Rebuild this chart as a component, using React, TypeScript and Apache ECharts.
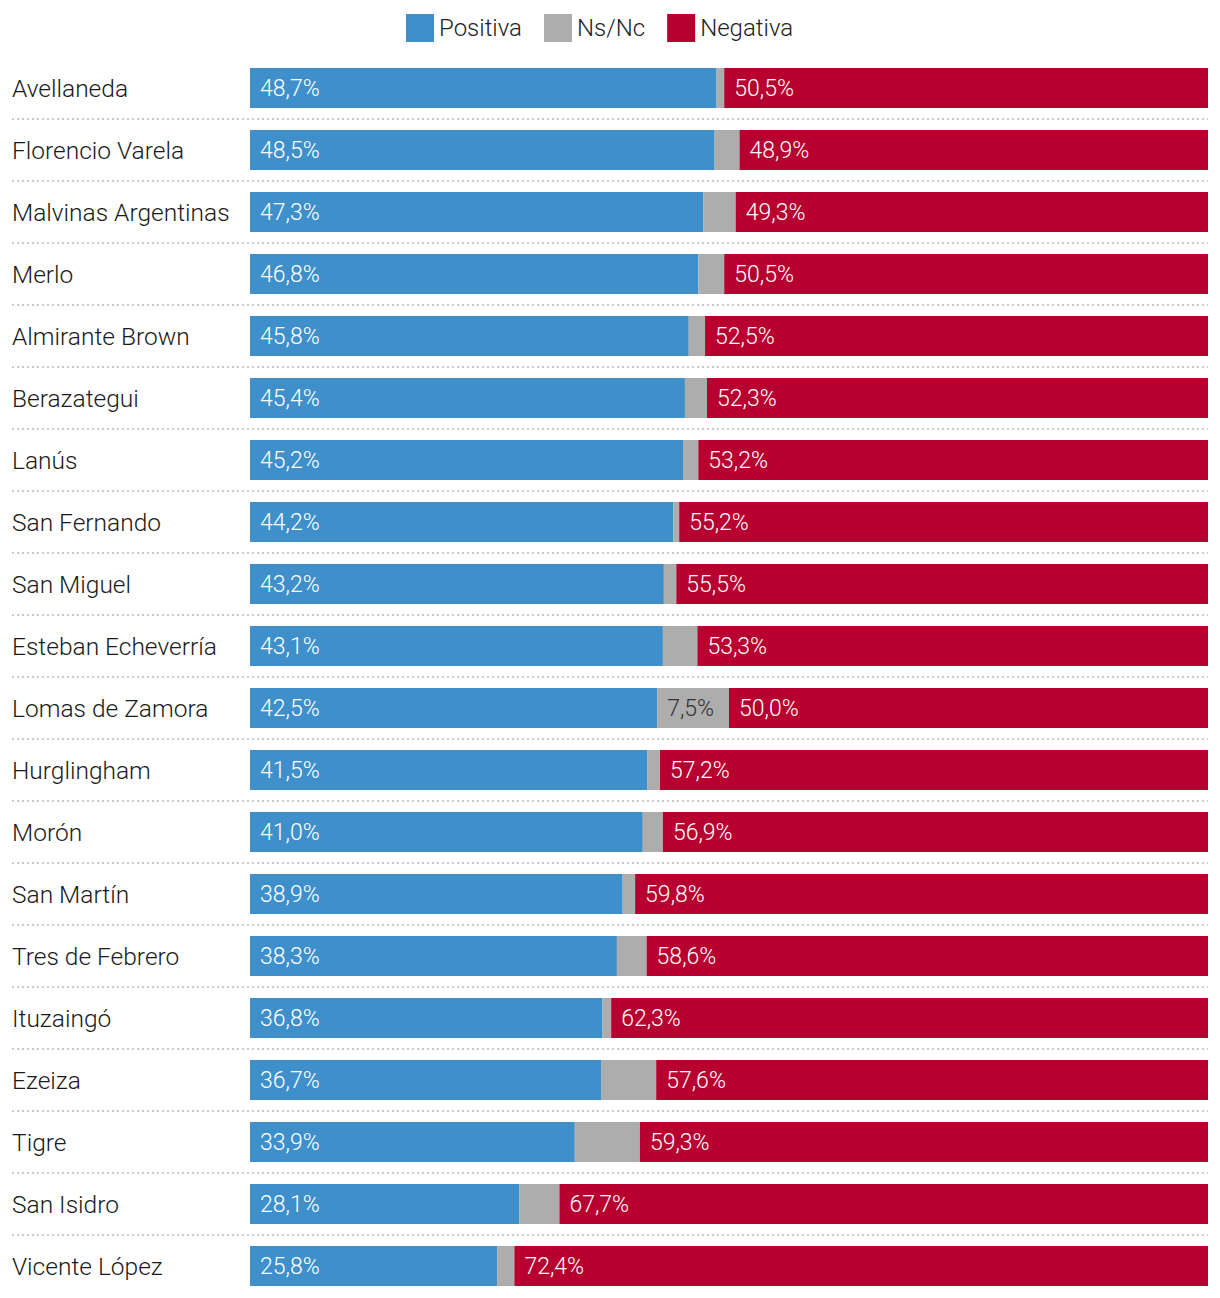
import React, { useEffect, useRef } from "react";
import * as echarts from "echarts";

const categories = [
  "Avellaneda", "Florencio Varela", "Malvinas Argentinas", "Merlo", "Almirante Brown",
  "Berazategui", "Lanús", "San Fernando", "San Miguel", "Esteban Echeverría",
  "Lomas de Zamora", "Hurglingham", "Morón", "San Martín", "Tres de Febrero",
  "Ituzaingó", "Ezeiza", "Tigre", "San Isidro", "Vicente López",
];
const positiva = [48.7, 48.5, 47.3, 46.8, 45.8, 45.4, 45.2, 44.2, 43.2, 43.1, 42.5, 41.5, 41.0, 38.9, 38.3, 36.8, 36.7, 33.9, 28.1, 25.8];
const nsnc = [0.8, 2.6, 3.4, 2.7, 1.7, 2.3, 1.6, 0.6, 1.3, 3.6, 7.5, 1.3, 2.1, 1.3, 3.1, 0.9, 5.7, 6.8, 4.2, 1.8];
const negativa = [50.5, 48.9, 49.3, 50.5, 52.5, 52.3, 53.2, 55.2, 55.5, 53.3, 50.0, 57.2, 56.9, 59.8, 58.6, 62.3, 57.6, 59.3, 67.7, 72.4];

const FONT = "Roboto";
const fmt = (v: number) => v.toFixed(1).replace(".", ",") + "%";

export default function App() {
  const ref = useRef<HTMLDivElement>(null);
  useEffect(() => {
    const chart = echarts.init(ref.current!, null, { renderer: "svg" });
    const n = categories.length;
    const valueLabel = {
      show: true,
      position: "insideLeft",
      distance: 10,
      color: "#fff",
      fontSize: 23,
      fontFamily: FONT,
      fontWeight: 300,
    };
    chart.setOption({
      animation: false,
      textStyle: { fontFamily: FONT },
      legend: {
        top: 9,
        left: 401,
        itemWidth: 28,
        itemHeight: 28,
        itemGap: 22,
        icon: "rect",
        textStyle: { fontSize: 24, color: "#222", fontFamily: FONT, fontWeight: 300 },
        data: ["Positiva", "Ns/Nc", "Negativa"],
      },
      grid: [
        { left: 250, right: 12, top: 57, height: 1240 },
        { left: 12, right: 12, top: 57, height: 1240 },
      ],
      xAxis: [
        { type: "value", min: 0, max: 100, gridIndex: 0, show: false },
        { type: "value", min: 0, max: 100, gridIndex: 1, show: false },
      ],
      yAxis: [
        {
          type: "category",
          data: categories,
          inverse: true,
          gridIndex: 0,
          axisLine: { show: false },
          axisTick: { show: false },
          splitLine: { show: false },
          axisLabel: {
            align: "left",
            margin: 238,
            fontSize: 24.5,
            color: "#1a1a1a",
            fontFamily: FONT,
            fontWeight: 300,
          },
        },
        {
          type: "value",
          min: 0,
          max: n,
          interval: 1,
          gridIndex: 1,
          axisLine: { show: false },
          axisTick: { show: false },
          axisLabel: { show: false },
          splitLine: {
            show: true,
            showMinLine: false,
            showMaxLine: false,
            lineStyle: { color: "#cccccc", width: 2, type: [2, 3] },
          },
        },
      ],
      series: [
        {
          name: "Positiva",
          type: "bar",
          stack: "t",
          barWidth: 40,
          data: positiva,
          itemStyle: { color: "#3f8fcb" },
          label: { ...valueLabel, formatter: (p: any) => fmt(p.value) },
        },
        {
          name: "Ns/Nc",
          type: "bar",
          stack: "t",
          barWidth: 40,
          data: nsnc,
          itemStyle: { color: "#adadad" },
          label: {
            ...valueLabel,
            color: "#333",
            formatter: (p: any) => (p.value >= 7 ? fmt(p.value) : ""),
          },
        },
        {
          name: "Negativa",
          type: "bar",
          stack: "t",
          barWidth: 40,
          data: negativa,
          itemStyle: { color: "#b70030" },
          label: { ...valueLabel, formatter: (p: any) => fmt(p.value) },
        },
      ],
    });
    return () => chart.dispose();
  }, []);
  return (
    <div
      ref={ref}
      style={{ position: "absolute", left: 0, top: 0, width: 1220, height: 1298, background: "#fff" }}
    />
  );
}
